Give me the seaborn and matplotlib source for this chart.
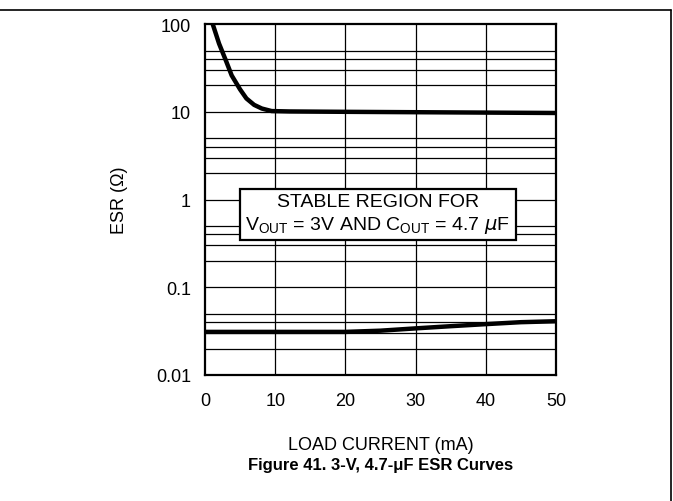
import numpy as np
import pandas as pd
import seaborn as sns
import matplotlib.pyplot as plt
from matplotlib.lines import Line2D

# upper ESR limit (ohm) vs load current (mA)
upper_ma = [1.1, 2.0, 3.0, 3.8, 5.0, 5.9, 7.0, 8.1, 9.5, 12, 20, 30, 40, 50]
upper_esr = [100, 60, 38, 26, 18, 14.2, 12, 10.9, 10.2, 10.1, 10.0, 9.9, 9.8, 9.7]

# lower ESR limit
lower_ma = [0, 10, 20, 25, 30, 35, 40, 45, 50]
lower_esr = [0.031, 0.031, 0.031, 0.032, 0.034, 0.036, 0.038, 0.040, 0.041]

xticks = [0, 10, 20, 30, 40, 50]
yticks = [0.01, 0.1, 1, 10, 100]
ytick_labels = ['0.01', '0.1', '1', '10', '100']

df_up = pd.DataFrame({'ma': upper_ma, 'esr': upper_esr})
df_lo = pd.DataFrame({'ma': lower_ma, 'esr': lower_esr})

sns.set_style('white')
plt.rcParams['font.family'] = ['Liberation Sans', 'DejaVu Sans']
plt.rcParams['text.color'] = 'black'
plt.rcParams['xtick.color'] = 'black'
plt.rcParams['ytick.color'] = 'black'
plt.rcParams['axes.labelcolor'] = 'black'

fig = plt.figure(figsize=(6.73, 5.02), dpi=100)
ax = fig.add_axes([0.3046, 0.251, 0.5215, 0.699])

ax.set_yscale('log')
ax.set_xlim(0, 50)
ax.set_ylim(0.01, 100)

# grid: decades + 2,3,4,5 of each decade
for x in xticks[1:-1]:
    ax.axvline(x, color='black', lw=0.9, zorder=1)
for dec in [0.01, 0.1, 1, 10]:
    for m in [1, 2, 3, 4, 5]:
        if dec * m > 0.01:
            ax.axhline(dec * m, color='black', lw=0.9, zorder=1)

sns.lineplot(data=df_up, x='ma', y='esr', ax=ax, color='black', lw=3.2, zorder=3)
sns.lineplot(data=df_lo, x='ma', y='esr', ax=ax, color='black', lw=3.2, zorder=3)

ax.set_xticks(xticks)
ax.set_xticklabels([str(t) for t in xticks])
ax.set_yticks(yticks)
ax.set_yticklabels(ytick_labels)
ax.minorticks_off()
ax.tick_params(length=0, labelsize=13)
ax.tick_params(axis='x', pad=12)
ax.tick_params(axis='y', pad=10)

for s in ax.spines.values():
    s.set_linewidth(1.6)
    s.set_color('black')

ax.set_xlabel('LOAD CURRENT (mA)', fontsize=13, labelpad=20)
ax.set_ylabel('ESR (\u03a9)', fontsize=13, labelpad=20)

ax.text(24.6, 0.69,
        'STABLE REGION FOR\n' + r'V$_{\mathregular{OUT}}$ = 3V AND C$_{\mathregular{OUT}}$ = 4.7 $\mu$F',
        ha='center', va='center', fontsize=14, multialignment='center', zorder=5,
        linespacing=1.25,
        bbox=dict(boxstyle='square,pad=0.3', fc='white', ec='black', lw=1.6))

fig.text(0.565, 0.073, 'Figure 41. 3-V, 4.7-\u03bcF ESR Curves', ha='center', va='center',
         fontsize=12, fontweight='bold')

# page frame lines
fig.add_artist(Line2D([0, 0.997], [0.979, 0.979], color='black', lw=1.2))
fig.add_artist(Line2D([0.997, 0.997], [0.979, 0], color='black', lw=1.2))

ax.set_zorder(2)
fig.savefig('out.png', dpi=100)
